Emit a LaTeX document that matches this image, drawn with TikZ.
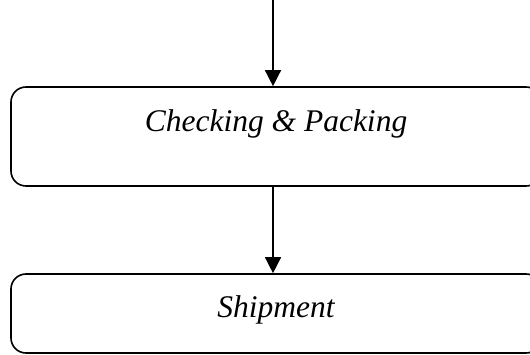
\documentclass[tikz,border=0pt]{standalone}
\usepackage{fontspec}
\setmainfont{Liberation Serif}
\usetikzlibrary{arrows.meta}

\begin{document}
\begin{tikzpicture}[x=1pt,y=1pt,
  stage/.style={draw, line width=1.6pt, rounded corners=15pt, minimum width=530pt,
    font=\fontsize{31.5}{36}\selectfont\itshape, text height=22pt},
  flow/.style={draw, line width=1.4pt, -{Triangle[width=16pt,length=16pt]}}]
\useasboundingbox (0,0) rectangle (530,-355);
\coordinate (0) at (273,0);
\node[stage, minimum height=99pt, text depth=31pt] (1) at (276,-136.5) {Checking \& Packing};
\node[stage, minimum height=79pt, text depth=15pt] (2) at (276,-313.5) {Shipment};
\path[flow] (0) -- (0 |- 1.north);
\path[flow] (0 |- 1.south) -- (0 |- 2.north);
\end{tikzpicture}
\end{document}
